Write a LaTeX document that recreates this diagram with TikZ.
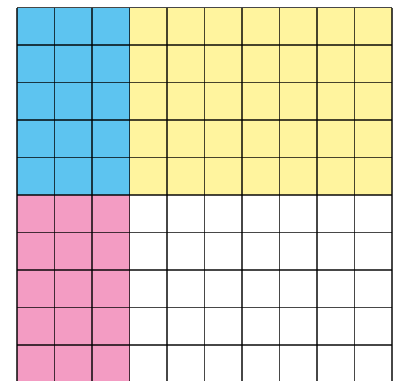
\documentclass[tikz,border=0pt]{standalone}
\definecolor{bluec}{HTML}{5DC4F0}
\definecolor{yellowc}{HTML}{FFF49E}
\definecolor{pinkc}{HTML}{F39CC3}
\tikzset{gridline/.style={draw=black, draw opacity=0.72, line width=1.3pt}}
\begin{document}
\begin{tikzpicture}[x=0.75pt,y=-0.75pt]
\useasboundingbox (0,0) rectangle (396,380);
\clip (0,0) rectangle (396,380);
\fill[white] (0,0) rectangle (396,380);
\fill[bluec] (17,7.5) rectangle (129.5,195);
\fill[yellowc] (129.5,7.5) rectangle (392,195);
\fill[pinkc] (17,195) rectangle (129.5,382.5);
\foreach \i in {0,...,10} \draw[gridline] ({17+37.5*\i},7.5) -- ({17+37.5*\i},382.5);
\foreach \j in {0,...,10} \draw[gridline] (17,{7.5+37.5*\j}) -- (392,{7.5+37.5*\j});
\end{tikzpicture}
\end{document}
